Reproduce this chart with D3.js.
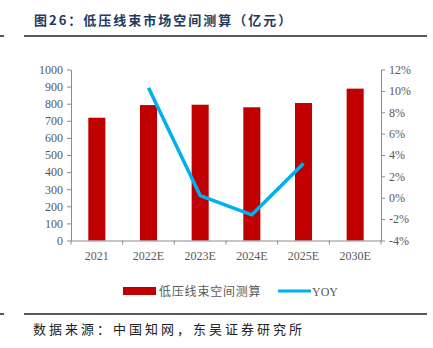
<!DOCTYPE html>
<html>
<head>
<meta charset="utf-8">
<script src="https://cdn.jsdelivr.net/npm/d3@7/dist/d3.min.js"></script>
<style>
  body { margin: 0; background: #fff; }
  svg { display: block; }
</style>
</head>
<body>
<svg id="chart" width="433" height="348"></svg>
<script>
const categories = ["2021", "2022E", "2023E", "2024E", "2025E", "2030E"];
const marketSize = [718, 792, 794, 779, 804, 888];
const yoy = [null, 10.3, 0.2, -1.6, 3.2, null];
const leftTicks = [0, 100, 200, 300, 400, 500, 600, 700, 800, 900, 1000];
const rightTicks = [-4, -2, 0, 2, 4, 6, 8, 10, 12];
const titleText = "图26：低压线束市场空间测算（亿元）";
const sourceText = "数据来源：中国知网，东吴证券研究所";
const seriesNames = ["低压线束空间测算", "YOY"];

(function () {
const svg = d3.select("#chart");
const pL = 71, pR = 381, pT = 69.5, pB = 240.5;
const axisColor = "#8c8c8c", textColor = "#595959";
const serif = "'Liberation Serif','Times New Roman',serif";
const cjk = "'Noto Sans CJK SC','Noto Sans',sans-serif";

// Title
svg.append("text").attr("x", 34).attr("y", 25)
  .attr("font-family", cjk).attr("font-weight", "bold").attr("font-size", 13)
  .attr("letter-spacing", 2).attr("fill", "#1f3a60").text(titleText);
svg.append("line").attr("x1", 24).attr("x2", 427).attr("y1", 36).attr("y2", 36)
  .attr("stroke", "#222").attr("stroke-width", 1.5);
svg.append("line").attr("x1", 0).attr("x2", 4).attr("y1", 36).attr("y2", 36)
  .attr("stroke", "#222").attr("stroke-width", 1.5);

// Scales
const x = d3.scaleBand().domain(categories).range([pL, pR]).padding(0);
const yL = d3.scaleLinear().domain([0, 1000]).range([pB, pT]);
const yR = d3.scaleLinear().domain([-4, 12]).range([pB, pT]);
const barW = x.bandwidth() * 0.33;

// Bars
svg.append("g").selectAll("rect").data(categories).join("rect")
  .attr("x", d => x(d) + x.bandwidth() / 2 - barW / 2)
  .attr("y", (d, i) => yL(marketSize[i]))
  .attr("width", barW)
  .attr("height", (d, i) => pB - yL(marketSize[i]))
  .attr("fill", "#c00000");

// Axes
function styleAxis(g) {
  g.selectAll(".domain").attr("stroke", axisColor);
  g.selectAll(".tick line").attr("stroke", axisColor);
  g.selectAll(".tick text").attr("fill", textColor).attr("font-family", serif).attr("font-size", 12);
}
const gL = svg.append("g").attr("transform", `translate(${pL},0)`)
  .call(d3.axisLeft(yL).tickValues(leftTicks).tickSize(4).tickSizeOuter(0).tickPadding(4).tickFormat(d3.format("d")));
styleAxis(gL);
const gR = svg.append("g").attr("transform", `translate(${pR},0)`)
  .call(d3.axisRight(yR).tickValues(rightTicks).tickSize(4).tickSizeOuter(0).tickPadding(4).tickFormat(d => d + "%"));
styleAxis(gR);
const gX = svg.append("g").attr("transform", `translate(0,${pB})`)
  .call(d3.axisBottom(x).tickSize(0).tickPadding(11));
styleAxis(gX);
// category boundary ticks
const bounds = categories.map(c => x(c)).concat([pR]);
svg.append("g").selectAll("line").data(bounds).join("line")
  .attr("x1", d => d).attr("x2", d => d)
  .attr("y1", pB).attr("y2", pB + 4)
  .attr("stroke", axisColor);

// YOY line
const line = d3.line()
  .defined(d => d.v !== null)
  .x(d => x(d.c) + x.bandwidth() / 2)
  .y(d => yR(d.v));
svg.append("path")
  .datum(categories.map((c, i) => ({ c, v: yoy[i] })))
  .attr("d", line).attr("fill", "none")
  .attr("stroke", "#00b0f0").attr("stroke-width", 3.5)
  .attr("stroke-linejoin", "round");

// Legend
svg.append("rect").attr("x", 123).attr("y", 287).attr("width", 33).attr("height", 8).attr("fill", "#c00000");
svg.append("text").attr("x", 159).attr("y", 295.5)
  .attr("font-family", cjk).attr("font-size", 12).attr("letter-spacing", 0.8)
  .attr("fill", textColor).text(seriesNames[0]);
svg.append("line").attr("x1", 278).attr("x2", 311).attr("y1", 291).attr("y2", 291)
  .attr("stroke", "#00b0f0").attr("stroke-width", 3);
svg.append("text").attr("x", 312).attr("y", 295.5)
  .attr("font-family", serif).attr("font-size", 12)
  .attr("fill", textColor).text(seriesNames[1]);

// Source
svg.append("line").attr("x1", 24).attr("x2", 427).attr("y1", 314).attr("y2", 314)
  .attr("stroke", "#222").attr("stroke-width", 1.5);
svg.append("line").attr("x1", 0).attr("x2", 4).attr("y1", 314).attr("y2", 314)
  .attr("stroke", "#222").attr("stroke-width", 1.5);
svg.append("text").attr("x", 33).attr("y", 334)
  .attr("font-family", cjk).attr("font-size", 13).attr("letter-spacing", 3)
  .attr("fill", "#222").text(sourceText);
})();
</script>
</body>
</html>
